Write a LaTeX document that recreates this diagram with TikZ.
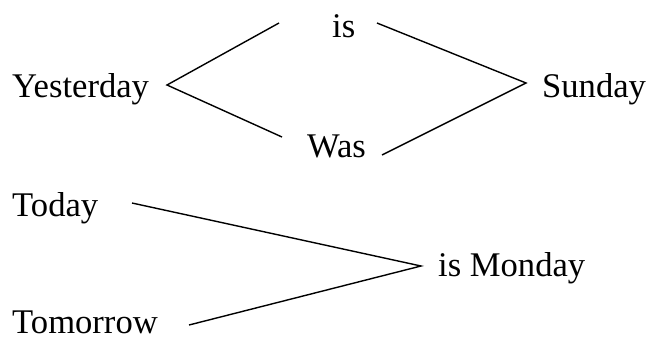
\documentclass[tikz,border=0pt]{standalone}
\usepackage{fontspec}
\setmainfont{Liberation Serif}
\begin{document}
\begin{tikzpicture}[x=1bp,y=-1bp,
  word/.style={anchor=base west,inner sep=0pt,font=\fontsize{34.6bp}{40bp}\selectfont},
  link/.style={line width=1.4bp,line join=miter}]
\useasboundingbox (0,0) rectangle (648,336);
\node[word] (yesterday) at (12,97) {Yesterday};
\node[word] (is) at (332,37) {is};
\node[word] (was) at (307,157) {Was};
\node[word] (sunday) at (542,97) {Sunday};
\node[word] (today) at (12,216) {Today};
\node[word] (tomorrow) at (12,333) {Tomorrow};
\node[word] (ismonday) at (438,276) {is Monday};
\coordinate (ya) at (279,23);
\coordinate (yv) at (167,85);
\coordinate (yb) at (282,137);
\coordinate (sa) at (377,23);
\coordinate (sv) at (526,83);
\coordinate (sb) at (382,155);
\coordinate (ta) at (132,203);
\coordinate (mv) at (421,266);
\coordinate (tb) at (189,325);
\draw[link] (ya) -- (yv) -- (yb);
\draw[link] (sa) -- (sv) -- (sb);
\draw[link] (ta) -- (mv) -- (tb);
\end{tikzpicture}
\end{document}
